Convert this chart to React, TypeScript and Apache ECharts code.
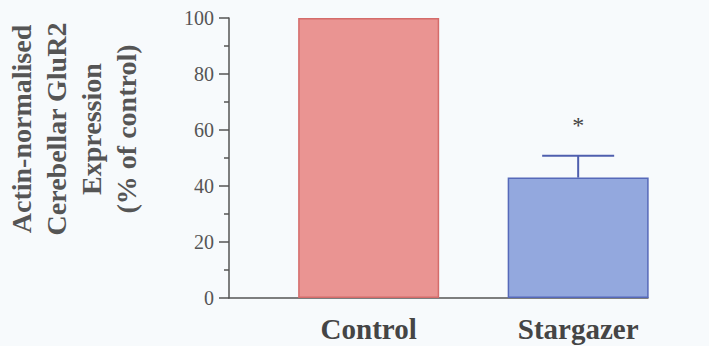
import React, { useEffect, useRef } from "react";
import * as echarts from "echarts";

// ---- data ----
const categories = ["Control", "Stargazer"];
const values = [100, 43];
const errorsUp = [0, 7.8];
const significance = ["", "*"];
const yMin = 0;
const yMax = 100;
const yStep = 20;
const titleLines = ["Actin-normalised", "Cerebellar GluR2", "Expression", "(% of control)"];

// ---- layout (not data) ----
const xPositions = [1, 2.5];
const barColors = ["#ea9492", "#93a8de"];
const barBorders = ["#d46c6b", "#5669b9"];

export default function App() {
  const ref = useRef<HTMLDivElement>(null);

  useEffect(() => {
    if (!ref.current) return;
    const chart = echarts.init(ref.current, null, { renderer: "svg" });
    const serif = "'Liberation Serif', 'Times New Roman', serif";

    const option: any = {
      animation: false,
      backgroundColor: "#f7fafc",
      grid: { left: 229, right: 61, top: 18, bottom: 48, containLabel: false },
      xAxis: {
        type: "value",
        min: 0,
        max: 3,
        splitLine: { show: false },
        axisLine: { show: true, lineStyle: { color: "#555", width: 1.5 } },
        axisTick: { show: false },
        axisLabel: {
          customValues: xPositions,
          formatter: (v: number) => {
            const i = xPositions.indexOf(v);
            return i >= 0 ? categories[i] : "";
          },
          fontFamily: serif,
          fontWeight: "bold",
          fontSize: 29,
          color: "#454545",
          margin: 16,
        },
      },
      yAxis: {
        type: "value",
        min: yMin,
        max: yMax,
        interval: yStep,
        splitLine: { show: false },
        axisLine: { show: true, lineStyle: { color: "#555", width: 1.5 } },
        axisTick: { show: true, length: 10, lineStyle: { color: "#555", width: 1.5 } },
        minorTick: { show: true, splitNumber: 2, length: 5, lineStyle: { color: "#555", width: 1.5 } },
        axisLabel: {
          fontFamily: serif,
          fontSize: 20,
          color: "#555",
          margin: 15,
        },
      },
      series: [
        {
          type: "bar",
          barWidth: 141,
          data: values.map((v, i) => ({
            value: [xPositions[i], v],
            itemStyle: { color: barColors[i], borderColor: barBorders[i], borderWidth: 1.5 },
          })),
        },
        {
          type: "custom",
          data: values.map((v, i) => [xPositions[i], v, errorsUp[i]]),
          renderItem: (params: any, api: any) => {
            const x = api.value(0);
            const v = api.value(1);
            const e = api.value(2);
            const base = api.coord([x, v]);
            const top = api.coord([x, v + e]);
            const children: any[] = [];
            if (e > 0) {
              children.push({
                type: "line",
                shape: { x1: base[0], y1: base[1], x2: top[0], y2: top[1] },
                style: { stroke: "#4f5fae", lineWidth: 2 },
              });
              children.push({
                type: "line",
                shape: { x1: top[0] - 36, y1: top[1], x2: top[0] + 36, y2: top[1] },
                style: { stroke: "#4f5fae", lineWidth: 2 },
              });
            }
            const sig = significance[params.dataIndex];
            if (sig) {
              children.push({
                type: "text",
                x: top[0],
                y: top[1] - 31,
                style: {
                  text: sig,
                  fontFamily: serif,
                  fontSize: 24,
                  fill: "#444",
                  align: "center",
                  verticalAlign: "middle",
                },
              });
            }
            return { type: "group", children };
          },
          z: 5,
        },
      ],
      graphic: [
        {
          type: "text",
          x: 74,
          y: 129,
          rotation: Math.PI / 2,
          style: {
            text: titleLines.join("\n"),
            fontFamily: serif,
            fontWeight: "bold",
            fontSize: 28,
            lineHeight: 35,
            fill: "#555",
            align: "center",
            verticalAlign: "middle",
          },
        },
      ],
    };

    chart.setOption(option);
    return () => chart.dispose();
  }, []);

  return (
    <div
      ref={ref}
      style={{ position: "fixed", left: 0, top: 0, width: 709, height: 346 }}
    />
  );
}
